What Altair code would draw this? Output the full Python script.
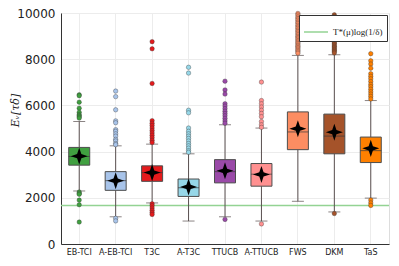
import altair as alt
import pandas as pd

methods = ["EB-TCI", "A-EB-TCI", "T3C", "A-T3C", "TTUCB", "A-TTUCB", "FWS", "DKM", "TaS"]
colors = ["#40a040", "#a8c4ea", "#e41a1c", "#96d7e8", "#9a4aa8", "#ff9090", "#fc8d62", "#a5532a", "#ff8000"]

q1 = [3413, 2323, 2713, 2059, 2646, 2503, 4084, 3904, 3526]
median = [3790, 2742, 3090, 2436, 3132, 3023, 4851, 4671, 4042]
q3 = [4181, 3133, 3384, 2813, 3652, 3484, 5719, 5623, 4629]
whisker_low = [2295, 1178, 1778, 994, 1178, 994, 1849, 1388, 1987]
whisker_high = [5302, 4250, 4323, 3904, 5162, 5019, 8164, 8193, 6210]
means = [3800, 2740, 3090, 2470, 3170, 3010, 4990, 4840, 4140]

outliers = {
    "EB-TCI": [6460, 6420, 6140, 5880, 5700, 5600, 5550, 5500, 5450, 2250, 2200, 2150, 1900, 1700, 950],
    "A-EB-TCI": [6620, 6380, 5810, 5330, 5250, 4950, 4880, 4770, 4670, 4530, 4460, 4350, 4300, 1110, 1000],
    "T3C": [8760, 8450, 6950, 5340, 5230, 5130, 5020, 4910, 4810, 4710, 4600, 4490, 4390,
            1740, 1660, 1560, 1460, 1360, 1280],
    "A-T3C": [7650, 7400, 5790, 5680, 5020, 4880, 4770, 4670, 4570, 4460, 4350, 4250, 4150, 4040, 3970],
    "TTUCB": [7050, 6670, 6490, 6070, 5970, 5860, 5750, 5650, 5550, 5440, 5330, 5230, 1065],
    "A-TTUCB": [7010, 6210, 6070, 5930, 5790, 5650, 5510, 5300, 5160, 5050, 870],
    "FWS": [9980, 9910, 9830, 9760, 9690, 9610, 9550, 9470, 9400, 9340, 9260, 9200, 9130, 9060,
            8990, 8930, 8870, 8800, 8740, 8680, 8610, 8560, 8500, 8440, 8380, 8320, 8260],
    "DKM": [9920, 9850, 9710, 9600, 9490, 9400, 9330, 9250, 9180, 9100, 9030, 8950, 8880,
            8820, 8750, 8690, 8620, 8560, 8500, 8440, 8390, 8330, 8270, 1320],
    "TaS": [8240, 7930, 7790, 7610, 7370, 7260, 7150, 7030, 6910, 6810, 6700, 6590, 6490,
            6390, 6280, 1900, 1780, 1670],
}

threshold = 1665
threshold_label = "T*(μ)log(1/δ)"
y_ticks = [0, 2000, 4000, 6000, 8000, 10000]

box_df = pd.DataFrame({
    "method": methods, "q1": q1, "median": median, "q3": q3,
    "lo": whisker_low, "hi": whisker_high, "mean": means,
})
out_df = pd.DataFrame(
    [{"method": m, "value": v} for m in methods for v in outliers[m]]
)
thr_df = pd.DataFrame({"value": [threshold], "series": [threshold_label]})

xenc = alt.X(
    "method:N", sort=methods, title=None,
    scale=alt.Scale(domain=methods, paddingInner=0, paddingOuter=0),
    axis=alt.Axis(labelAngle=0, labelFontSize=8, labelFont="DejaVu Sans", labelColor="#222",
                  grid=True, gridColor="#ececec", tickSize=0, labelPadding=4,
                  domainColor="#333", domainWidth=1),
)
yscale = alt.Scale(domain=[0, 10000], nice=False, zero=True)
yaxis = alt.Axis(values=y_ticks, format="d", labelFontSize=12,
                 labelFont="DejaVu Sans", labelColor="#222", grid=True, gridColor="#ececec",
                 tickSize=0, labelPadding=6, domainColor="#333", domainWidth=1,
                 title="Eᵥ[τδ]", titleFont="DejaVu Serif", titleFontStyle="italic",
                 titleFontSize=11, titleFontWeight="normal", titleColor="#222",
                 titleX=-46, titleY=97, titleBaseline="middle", titleAngle=270)
fillscale = alt.Scale(domain=methods, range=colors)

base = alt.Chart(box_df)

thr = alt.Chart(thr_df).mark_rule(strokeWidth=1.5).encode(
    y=alt.Y("value:Q", scale=yscale, axis=yaxis),
    stroke=alt.Stroke("series:N", scale=alt.Scale(range=["#93d393"]),
                      legend=alt.Legend(title=None, orient="none", legendX=238, legendY=2,
                                        symbolType="stroke", symbolSize=576, symbolStrokeWidth=1.5,
                                        strokeColor="#333", fillColor="white", padding=4,
                                        cornerRadius=0, labelFont="Liberation Serif",
                                        labelFontSize=9, labelColor="#222", labelOffset=4)),
)

whisk_lo = base.mark_rule(color="#5a5050", strokeWidth=1).encode(
    x=xenc, y=alt.Y("lo:Q", scale=yscale), y2="q1:Q")
whisk_hi = base.mark_rule(color="#5a5050", strokeWidth=1).encode(
    x=xenc, y=alt.Y("q3:Q", scale=yscale), y2="hi:Q")
cap_lo = base.mark_tick(color="#5a5050", size=12, thickness=1, orient="horizontal").encode(
    x=xenc, y=alt.Y("lo:Q", scale=yscale))
cap_hi = base.mark_tick(color="#5a5050", size=12, thickness=1, orient="horizontal").encode(
    x=xenc, y=alt.Y("hi:Q", scale=yscale))
boxes = base.mark_bar(size=21, stroke="#4d4d4d", strokeWidth=1).encode(
    x=xenc, y=alt.Y("q1:Q", scale=yscale), y2="q3:Q",
    fill=alt.Fill("method:N", scale=fillscale, legend=None))
med = base.mark_tick(color="#3a3a3a", size=21, thickness=1, orient="horizontal", opacity=0.7).encode(
    x=xenc, y=alt.Y("median:Q", scale=yscale))
pts = alt.Chart(out_df).mark_point(filled=True, size=20, stroke="#333", strokeWidth=0.5,
                                   strokeOpacity=0.7, opacity=1).encode(
    x=xenc, y=alt.Y("value:Q", scale=yscale),
    fill=alt.Fill("method:N", scale=fillscale, legend=None))
star = "M0,-1L0.25,-0.25L1,0L0.25,0.25L0,1L-0.25,0.25L-1,0L-0.25,-0.25Z"
mean_pts = base.mark_point(shape=star, filled=True, color="black", size=290, opacity=1).encode(
    x=xenc, y=alt.Y("mean:Q", scale=yscale))

chart = alt.layer(thr, whisk_lo, whisk_hi, cap_lo, cap_hi, boxes, med, pts, mean_pts).properties(
    width=328, height=231,
    padding={"left": 53, "top": 5, "right": 2, "bottom": 11},
    autosize=alt.AutoSizeParams(type="none"),
).configure_view(stroke=None).configure(background="white")

chart.save("out.html", embed_options={"renderer": "svg", "actions": False})
